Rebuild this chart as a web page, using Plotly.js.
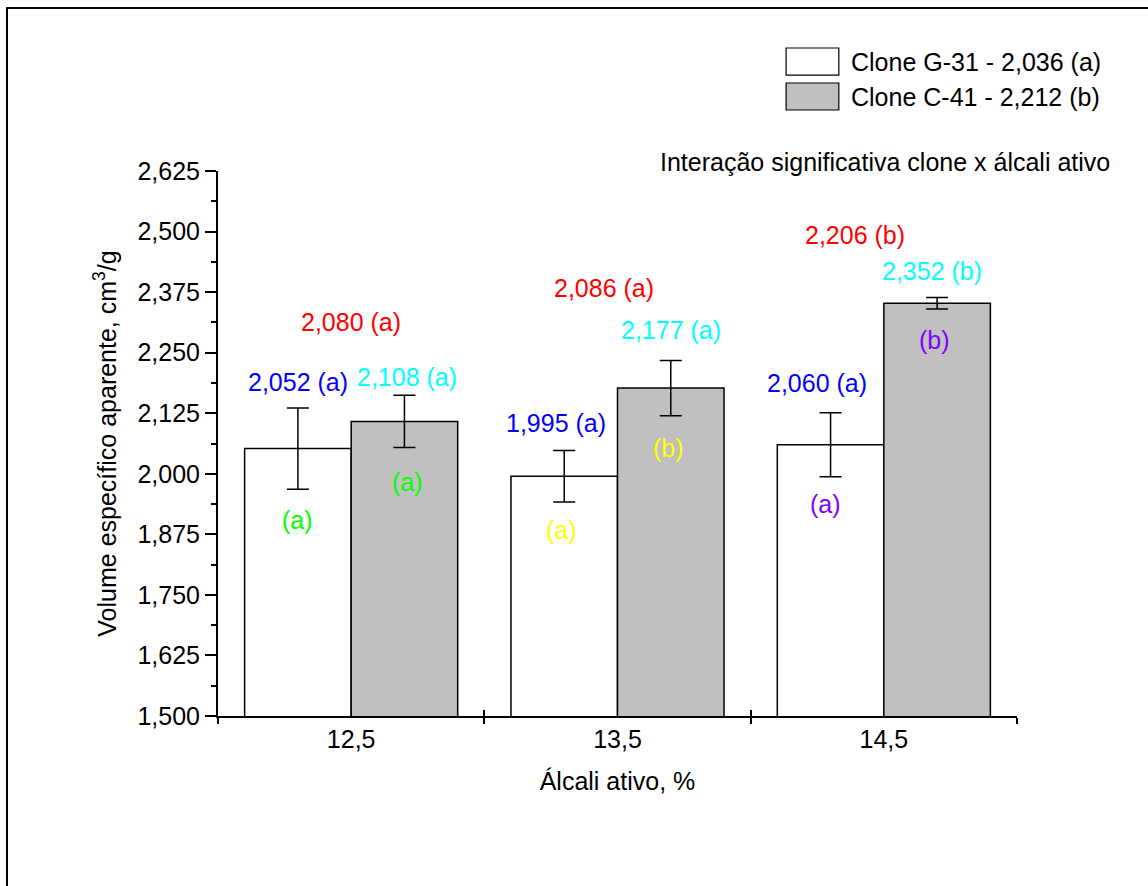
<!DOCTYPE html>
<html>
<head>
<meta charset="utf-8">
<script src="https://cdn.plot.ly/plotly-3.0.1.min.js"></script>
<style>
  html, body { margin: 0; padding: 0; background: #fff; overflow: hidden; }
  #wrap { position: relative; width: 1148px; height: 886px; }
  #chart { width: 1148px; height: 886px; }
  #frame { position: absolute; left: 6px; top: 7px; width: 1300px; height: 1000px;
           border-top: 2px solid #000; border-left: 2px solid #000; pointer-events: none; }
</style>
</head>
<body>
<div id="wrap"><div id="chart"></div><div id="frame"></div></div>
<script>
// ---- data ----
const categories = ['12,5', '13,5', '14,5'];
const g31Values = [2.052, 1.995, 2.060];
const g31Errors = [0.084, 0.053, 0.066];
const c41Values = [2.108, 2.177, 2.352];
const c41Errors = [0.054, 0.057, 0.012];
const g31Letters = ['a', 'a', 'a'];          // blue labels
const c41Letters = ['a', 'a', 'b'];          // cyan labels
const levelMeans = [2.080, 2.086, 2.206];    // red labels
const levelLetters = ['a', 'a', 'b'];
const g31CloneLetters = ['a', 'a', 'a'];     // letters inside bars
const c41CloneLetters = ['a', 'b', 'b'];
const cloneNames = ['Clone G-31', 'Clone C-41'];
const cloneMeans = [2.036, 2.212];
const cloneMeanLetters = ['a', 'b'];
const yTickStep = 0.125;

const fmt = v => v.toFixed(3).replace('.', ',');
const FONT = 'Liberation Sans, Arial, sans-serif';
const FS = 25;

const traces = [
  {
    type: 'bar', name: cloneNames[0], x: categories, y: g31Values,
    marker: { color: '#ffffff', line: { color: '#000', width: 1.5 } },
    error_y: { type: 'data', array: g31Errors, visible: true, color: '#000', thickness: 1.5, width: 11 },
    showlegend: false, cliponaxis: true
  },
  {
    type: 'bar', name: cloneNames[1], x: categories, y: c41Values,
    marker: { color: '#c0c0c0', line: { color: '#000', width: 1.5 } },
    error_y: { type: 'data', array: c41Errors, visible: true, color: '#000', thickness: 1.5, width: 11 },
    showlegend: false, cliponaxis: true
  }
];

// ---- annotations ----
const ann = [];
const txt = (x, y, text, color, extra) => Object.assign({
  x: x, y: y, xref: 'x2', yref: 'y', text: text, showarrow: false,
  font: { family: FONT, size: FS, color: color }, xanchor: 'center', yanchor: 'middle'
}, extra || {});

// label placement (x offset within group, y in axis units)
const redPos = [[0.0, 2.313], [0.95, 2.384], [1.89, 2.493]];
const bluePos = [[-0.2, 2.190], [0.77, 2.105], [1.75, 2.187]];
const cyanPos = [[0.21, 2.200], [1.20, 2.297], [2.18, 2.419]];
const inWhitePos = [[-0.2, 1.905], [0.79, 1.884], [1.78, 1.937]];
const inGrayPos = [[0.21, 1.983], [1.19, 2.053], [2.19, 2.276]];
const letterColors = ['#00ff00', '#ffff00', '#8000ff'];

for (let i = 0; i < categories.length; i++) {
  ann.push(txt(redPos[i][0], redPos[i][1], fmt(levelMeans[i]) + ' (' + levelLetters[i] + ')', '#ff0000'));
  ann.push(txt(bluePos[i][0], bluePos[i][1], fmt(g31Values[i]) + ' (' + g31Letters[i] + ')', '#0000ff'));
  ann.push(txt(cyanPos[i][0], cyanPos[i][1], fmt(c41Values[i]) + ' (' + c41Letters[i] + ')', '#00ffff'));
  ann.push(txt(inWhitePos[i][0], inWhitePos[i][1], '(' + g31CloneLetters[i] + ')', letterColors[i]));
  ann.push(txt(inGrayPos[i][0], inGrayPos[i][1], '(' + c41CloneLetters[i] + ')', letterColors[i]));
}

// custom legend
const legY = [1.200, 1.1358];
const shapes = [];
const legFill = ['#ffffff', '#c0c0c0'];
const legBox = [[1.2257, 1.1761], [1.1615, 1.1119]];
for (let k = 0; k < 2; k++) {
  shapes.push({ type: 'rect', xref: 'paper', yref: 'paper', x0: 0.711, x1: 0.777,
    y0: legBox[k][1], y1: legBox[k][0], fillcolor: legFill[k], line: { color: '#000', width: 1.2 } });
  ann.push({ xref: 'paper', yref: 'paper', x: 0.790, y: legY[k], xanchor: 'left', yanchor: 'middle',
    text: cloneNames[k] + ' - ' + fmt(cloneMeans[k]) + ' (' + cloneMeanLetters[k] + ')', showarrow: false,
    font: { family: FONT, size: FS, color: '#000' } });
}
ann.push({ xref: 'paper', yref: 'paper', x: 1.119, y: 1.0165, xanchor: 'right', yanchor: 'middle',
  text: 'Interação significativa clone x álcali ativo', showarrow: false,
  font: { family: FONT, size: FS, color: '#000' } });

const layout = {
  width: 1148, height: 886,
  margin: { l: 218, r: 131, t: 171, b: 170 },
  paper_bgcolor: '#fff', plot_bgcolor: '#fff',
  separators: ',.',
  font: { family: FONT, size: FS, color: '#000' },
  barmode: 'group', bargap: 0.2, bargroupgap: 0,
  showlegend: false,
  xaxis: {
    type: 'category', range: [-0.5, 2.5], tickson: 'boundaries',
    ticks: 'outside', ticklen: 6, tickwidth: 2, tickcolor: '#000',
    showline: true, linecolor: '#000', linewidth: 2, showgrid: false, zeroline: false,
    tickfont: { family: FONT, size: FS, color: '#000' },
    title: { text: 'Álcali ativo, %', font: { family: FONT, size: FS, color: '#000' }, standoff: 20 }
  },
  xaxis2: {
    overlaying: 'x', anchor: 'y', range: [-0.5, 2.5], type: 'linear',
    tickmode: 'array', tickvals: [-0.5, 0.5, 1.5, 2.5], ticks: 'inside', ticklen: 6, tickwidth: 2,
    tickcolor: '#000', showticklabels: false, showgrid: false, zeroline: false, showline: false
  },
  yaxis: {
    range: [1.5, 2.625], dtick: yTickStep, tick0: 1.5, tickformat: '.3f',
    ticks: 'outside', ticklen: 11, tickwidth: 2, tickcolor: '#000',
    minor: { dtick: yTickStep / 2, ticks: 'outside', ticklen: 5, tickwidth: 2, tickcolor: '#000', showgrid: false },
    showline: true, linecolor: '#000', linewidth: 2, showgrid: false, zeroline: false,
    tickfont: { family: FONT, size: FS, color: '#000' },
    title: { text: 'Volume específico aparente, cm<sup>3</sup>/g', font: { family: FONT, size: FS, color: '#000' }, standoff: 14 }
  },
  annotations: ann,
  shapes: shapes
};

// invisible helper trace so the overlay axis is drawn
traces.push({ type: 'scatter', x: [-0.5, 2.5], y: [1.5, 1.5], xaxis: 'x2', yaxis: 'y',
  mode: 'markers', marker: { opacity: 0 }, hoverinfo: 'skip', showlegend: false });

Plotly.newPlot('chart', traces, layout, { displayModeBar: false, staticPlot: true });
</script>
</body>
</html>
